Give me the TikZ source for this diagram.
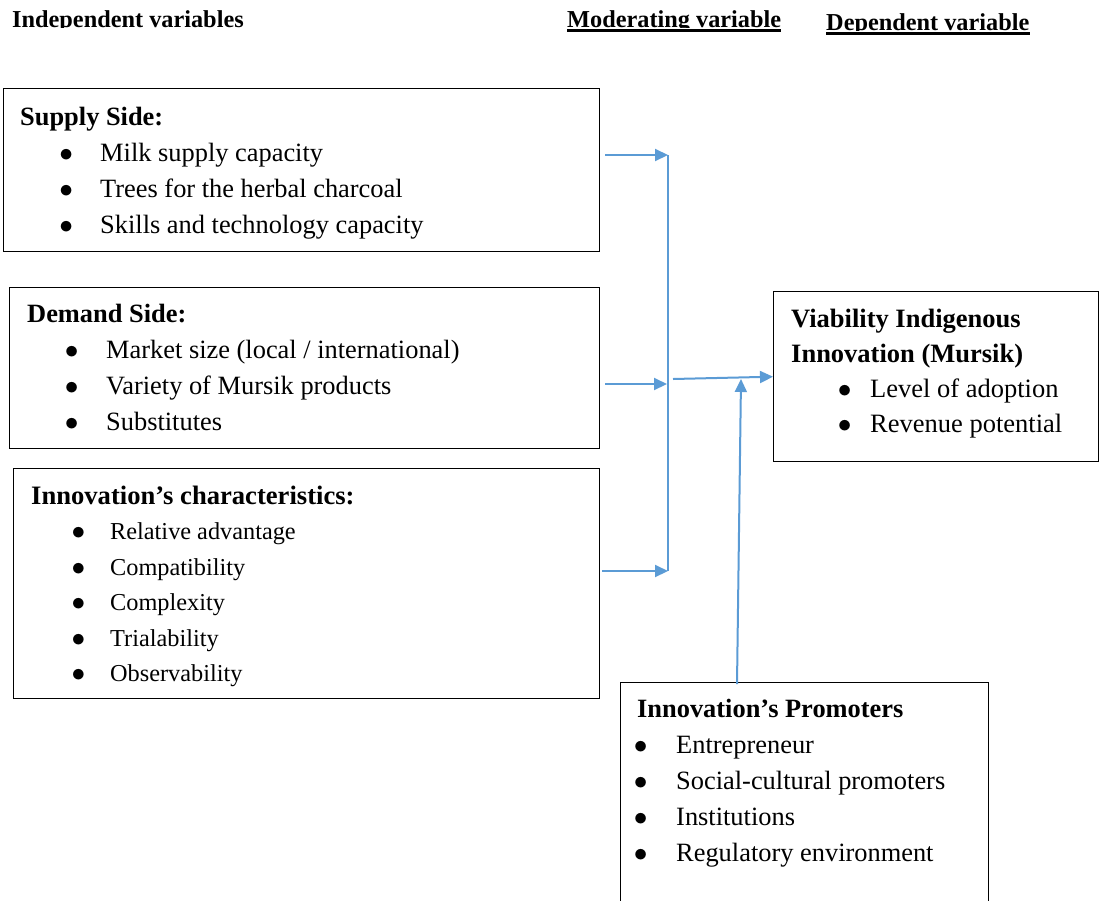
\documentclass[tikz,border=0pt]{standalone}
\usepackage{fontspec}
\setmainfont{Liberation Serif}
\usetikzlibrary{arrows.meta,positioning}
\definecolor{arrowblue}{RGB}{91,155,213}
\newcommand{\itm}[2]{\hspace*{#1pt}\makebox[#2pt][l]{\scalebox{1.1}{$\bullet$}}}

\begin{document}
\begin{tikzpicture}
[x=1pt,y=-1pt,
box/.style={draw,line width=1.4pt,anchor=north west,inner sep=0pt},
txt/.style={anchor=base west,inner sep=0pt,font=\fontsize{26.4}{36}\selectfont},
hd/.style={anchor=base west,inner sep=0pt,font=\fontsize{24.3}{26}\selectfont\bfseries},
uline/.style={line width=2.5pt},
arr/.style={draw=arrowblue,line width=2pt,-{Triangle[length=13pt,width=12pt]}},
modline/.style={draw=arrowblue,line width=1.5pt}]

\useasboundingbox (0,0) rectangle (1099,900);

\begin{scope}
\clip (0,0) rectangle (810,27.5) (810,0) rectangle (1099,30.5);
\node[hd] (indep) at (12,27) {Independent variables};
\node[hd] (moder) at (567,27) {Moderating variable};
\node[hd] (dep) at (826,30) {Dependent variable};
\end{scope}
\draw[uline] ([yshift=-3.5]moder.base west) -- ([yshift=-3.5]moder.base east);
\draw[uline] ([yshift=-3.5]dep.base west) -- ([yshift=-3.5]dep.base east);

\node[box,minimum width=596,minimum height=163] (supply) at (3,88) {};
\node[box,minimum width=590,minimum height=161] (demand) at (9,287) {};
\node[box,minimum width=586,minimum height=230] (innov) at (13,468) {};
\node[box,minimum width=325,minimum height=170] (viab) at (773,291) {};
\node[box,minimum width=368,minimum height=230] (promo) at (620,682) {};

\node[txt] (supplytxt) at ([xshift=17,yshift=-37]supply.north west) {%
\begin{tabular}[t]{@{}l@{}}
\textbf{Supply Side:}\\
\itm{39.2}{40.8}Milk supply capacity\\
\itm{39.2}{40.8}Trees for the herbal charcoal\\
\itm{39.2}{40.8}Skills and technology capacity
\end{tabular}};

\node[txt] (demandtxt) at ([xshift=18,yshift=-35]demand.north west) {%
\begin{tabular}[t]{@{}l@{}}
\textbf{Demand Side:}\\
\itm{37.7}{41.3}Market size (local / international)\\
\itm{37.7}{41.3}Variety of Mursik products\\
\itm{37.7}{41.3}Substitutes
\end{tabular}};

\node[txt,font=\fontsize{24.3}{35.5}\selectfont] (innovtxt) at ([xshift=18,yshift=-36]innov.north west) {%
\begin{tabular}[t]{@{}l@{}}
\textbf{\fontsize{26.6}{35.5}\selectfont Innovation’s characteristics:}\\
\itm{40.3}{38.7}Relative advantage\\
\itm{40.3}{38.7}Compatibility\\
\itm{40.3}{38.7}Complexity\\
\itm{40.3}{38.7}Trialability\\
\itm{40.3}{38.7}Observability
\end{tabular}};

\node[txt,font=\fontsize{26.5}{35}\selectfont] (viabtxt) at ([xshift=18,yshift=-36]viab.north west) {%
\begin{tabular}[t]{@{}l@{}}
\textbf{Viability Indigenous}\\
\textbf{Innovation (Mursik)}\\
\itm{46.7}{32.3}Level of adoption\\
\itm{46.7}{32.3}Revenue potential
\end{tabular}};

\node[txt] (promotxt) at ([xshift=17,yshift=-35]promo.north west) {%
\begin{tabular}[t]{@{}l@{}}
\textbf{Innovation’s Promoters}\\
\itm{-3.3}{42.3}Entrepreneur\\
\itm{-3.3}{42.3}Social-cultural promoters\\
\itm{-3.3}{42.3}Institutions\\
\itm{-3.3}{42.3}Regulatory environment
\end{tabular}};

\coordinate (mtop) at (668,155);
\coordinate (mmid) at (667,384);
\coordinate (mbot) at (668,571);
\coordinate (mout) at (673,379);
\coordinate (vfoot) at (741,379);

\draw[modline] (mtop) -- (mbot);
\draw[arr,shorten <=5pt] (supply.east |- mtop) -- (mtop);
\draw[arr,shorten <=5pt] (demand.east |- mmid) -- (mmid);
\draw[arr,shorten <=2pt] (innov.east |- mbot) -- (mbot);
\draw[arr] (mout) -- (viab.west);
\draw[arr] ([xshift=117,yshift=-2]promo.north west) -- (vfoot);
\end{tikzpicture}
\end{document}
